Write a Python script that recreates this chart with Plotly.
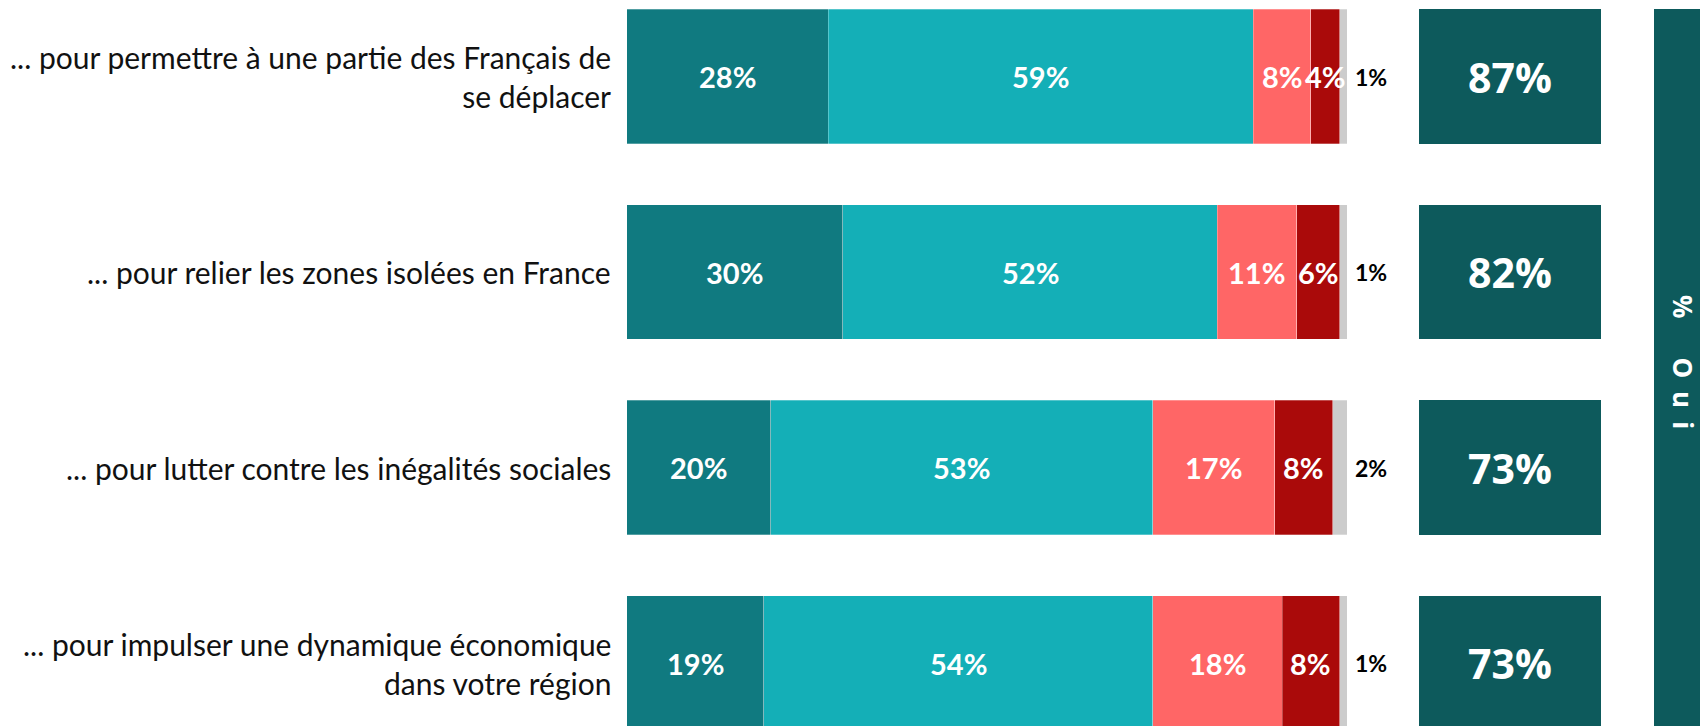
import plotly.graph_objects as go

categories = [
    "... pour permettre à une partie des Français de<br>se déplacer",
    "... pour relier les zones isolées en France",
    "... pour lutter contre les inégalités sociales",
    "... pour impulser une dynamique économique<br>dans votre région",
]
tout_a_fait = [28, 30, 20, 19]
plutot_oui = [59, 52, 53, 54]
plutot_non = [8, 11, 17, 18]
pas_du_tout = [4, 6, 8, 8]
nsp = [1, 1, 2, 1]
total_oui = [87, 82, 73, 73]

series = [
    ("Tout à fait", tout_a_fait, "#107A80"),
    ("Plutôt oui", plutot_oui, "#14AFB7"),
    ("Plutôt non", plutot_non, "#FF6666"),
    ("Pas du tout", pas_du_tout, "#AA0A0A"),
    ("NSP", nsp, "#CCCCCC"),
]

W, H = 1700, 726
ypos = list(range(len(categories)))
bar_w = 0.69

fig = go.Figure()
for name, vals, col in series:
    fig.add_trace(go.Bar(
        y=ypos, x=vals, orientation="h", name=name, width=bar_w,
        marker=dict(color=col, line=dict(color="rgba(255,255,255,0.35)", width=0.8)),
        hoverinfo="skip",
    ))

# Total Oui boxes on a second x axis
fig.add_trace(go.Bar(
    y=ypos, x=[1] * len(ypos), orientation="h", xaxis="x2", yaxis="y",
    width=bar_w, marker=dict(color="#0D5A5C", line=dict(width=0)), hoverinfo="skip",
))

annotations = []
for i in range(len(ypos)):
    cum = 0
    for k, (name, vals, col) in enumerate(series):
        v = vals[i]
        if k < 4:
            annotations.append(dict(
                x=cum + v / 2, y=ypos[i], xref="x", yref="y", xanchor="center",
                text=f"<b>{v}%</b>", showarrow=False,
                font=dict(family="Lato", size=29, color="white"),
            ))
        else:
            annotations.append(dict(
                x=cum + v, y=ypos[i], xref="x", yref="y", xanchor="left",
                xshift=6, text=f"<b>{v}%</b>", showarrow=False,
                font=dict(family="Lato", size=23, color="black"),
            ))
        cum += v
    annotations.append(dict(
        x=613 / W, y=ypos[i], xref="paper", yref="y", xanchor="right",
        align="right", text=categories[i], showarrow=False,
        font=dict(family="Lato", size=30, color="#111111"),
    ))
    annotations.append(dict(
        x=0.5, y=ypos[i], xref="x2", yref="y", xanchor="center",
        text=f"<b>{total_oui[i]}%</b>", showarrow=False,
        font=dict(family="Open Sans", size=41, color="white"),
    ))

y_top = (9 - 76.5) / 195.5
annotations.append(dict(
    x=1683 / W, y=(362 - 76.5) / 195.5, xref="paper", yref="y",
    xanchor="center", yanchor="middle",
    text="<b>%\u2003\u2002O\u2002u\u2002i</b>", textangle=90, showarrow=False,
    font=dict(family="Open Sans", size=26, color="white"),
))

shapes = [dict(
    type="rect", xref="paper", yref="y", x0=1654 / W, x1=1.02,
    y0=y_top, y1=3.6, fillcolor="#0D5A5C", line=dict(width=0), layer="below",
)]

fig.update_layout(
    width=W, height=H,
    margin=dict(l=0, r=0, t=0, b=0),
    barmode="stack",
    showlegend=False,
    plot_bgcolor="white", paper_bgcolor="white",
    xaxis=dict(domain=[626.7 / W, 1347 / W], range=[0, 100], visible=False),
    xaxis2=dict(domain=[1419 / W, 1601 / W], range=[0, 1], visible=False, anchor="y"),
    yaxis=dict(range=[(726 - 76.5) / 195.5, -76.5 / 195.5], visible=False),
    annotations=annotations,
    shapes=shapes,
)

fig.write_html(
    "out.html",
    config={"displayModeBar": False, "staticPlot": True},
    post_script="document.body.style.margin='0';document.body.style.overflow='hidden';",
)
